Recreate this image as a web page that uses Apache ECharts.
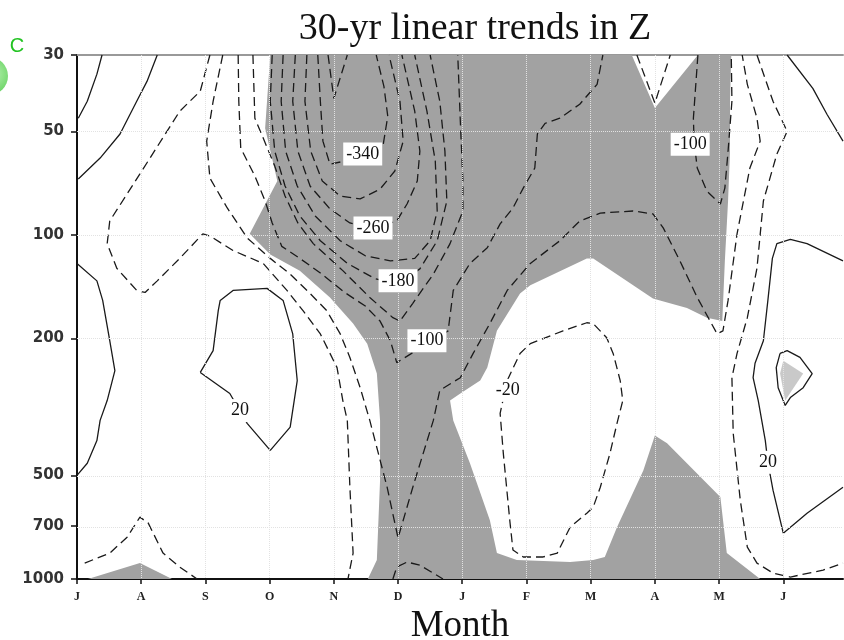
<!DOCTYPE html>
<html><head><meta charset="utf-8">
<script src="https://cdn.jsdelivr.net/npm/echarts@6/dist/echarts.min.js"></script>
<style>html,body{margin:0;padding:0;background:#fff}#c{width:844px;height:640px}</style>
</head><body><div id="c"></div>
<script>
// ---------- axis categories / ticks ----------
const months = ['J','A','S','O','N','D','J','F','M','A','M','J'];
const pressureTicks = [30,50,100,200,500,700,1000];
const gridPressures = [50,100,200,500,700];

// ---------- shaded regions: [month index, pressure hPa] ----------
const shadeMain = [[3.01,30],[8.64,30],[9.0,42.8],[9.67,30],[10.19,30],[10.17,40.9],[10.17,57.1],[10.14,79.7],[10.09,119],[10.05,178],[9.81,174],[9.50,163],[9.08,155],[8.97,153],[8.04,117],[7.94,117],[7.06,140],[6.90,148],[6.54,190],[6.39,243],[6.28,265],[5.97,289],[5.81,303],[5.86,346],[6.12,461],[6.43,675],[6.54,841],[6.85,881],[7.68,893],[8.04,881],[8.22,863],[8.41,707],[8.82,484],[9.0,383],[9.19,403],[10.02,578],[10.12,841],[10.64,1000],[4.53,1000],[4.67,881],[4.72,516],[4.72,346],[4.67,253],[4.52,207],[4.30,181],[3.94,152],[3.47,127],[3.01,114],[2.69,99.3],[3.12,69.7],[2.93,49.0]];
const shadeBottomLeft = [[0.17,1000],[0.98,899],[1.48,1000]];
const shadeLight = [[11.0,232],[11.31,253],[11.03,303],[10.95,253]];

// ---------- positive contours (solid) ----------
const pos20TopLeftA = [[0.39,30],[0.31,34.1],[0.16,40.9],[0.02,45.8]];
const pos20TopLeftB = [[1.25,30],[1.09,35.8],[0.93,40.9],[0.67,50.9],[0.36,59.8],[0.02,68.8]];
const pos20LeftEdge = [[0,121],[0.31,136],[0.40,155],[0.51,203],[0.59,248],[0.47,303],[0.36,346],[0.31,396],[0.16,461],[0,500]];
const pos20LoopSO = [[1.92,251],[2.12,217],[2.20,166],[2.23,155],[2.43,145],[2.96,143],[3.21,155],[3.36,194],[3.43,265],[3.32,362],[3.01,423],[2.65,353],[2.38,289],[1.92,251]];
const pos20TopRight = [[11.06,30],[11.46,37.5],[11.68,44.6],[11.93,53.4]];
const pos20RightJ = [[11.93,119],[11.37,106],[11.11,103],[10.90,106],[10.83,117],[10.76,155],[10.69,203],[10.56,236],[10.53,260],[10.61,303],[10.72,396],[10.76,458],[10.84,552],[11.0,736],[11.37,644],[11.93,541]];
const pos60LoopJ = [[10.95,221],[11.06,217],[11.26,227],[11.45,253],[11.31,278],[11.11,297],[11.03,313],[10.92,278],[10.89,243],[10.95,221]];

// ---------- negative contours (dashed) ----------
const neg20Main = [[2.07,30],[1.92,38.2],[1.60,43.7],[0.98,66.5],[0.51,91.1],[0.47,106],[0.62,125],[0.93,145],[1.06,147],[1.25,136],[1.60,117],[1.96,99.3],[2.07,100.7],[2.43,111],[2.90,121],[3.27,145],[3.52,166],[3.79,194],[4.05,243],[4.14,303],[4.21,346],[4.25,541],[4.30,841],[4.22,1000]];
const neg20LoopFM = [[6.70,265],[6.59,330],[6.64,432],[6.74,675],[6.79,824],[6.95,863],[7.26,863],[7.48,841],[7.68,707],[7.94,644],[8.04,618],[8.15,541],[8.30,432],[8.41,353],[8.50,303],[8.46,265],[8.35,221],[8.25,199],[8.04,181],[7.94,180],[7.57,190],[7.06,207],[6.90,221],[6.70,265]];
const neg20RightMJ = [[10.59,30],[10.84,40.9],[11.06,50.0],[10.90,58.2],[10.69,79.7],[10.59,125],[10.44,174],[10.28,221],[10.20,260],[10.22,377],[10.33,590],[10.44,808],[10.59,899],[10.84,961],[11.11,987],[11.62,942],[11.93,899]];
const neg20BottomJA = [[0.12,899],[0.51,841],[0.78,756],[0.98,661],[1.11,688],[1.34,841],[1.60,923],[1.87,1000]];
const neg60Main = [[2.27,30],[2.12,40.9],[2.02,53.4],[2.07,68.4],[2.34,83.5],[2.65,102],[3.01,117],[3.32,130],[3.63,148],[3.89,166],[4.10,194],[4.25,227],[4.41,278],[4.56,346],[4.83,541],[5.0,760],[5.23,541],[5.55,346],[5.65,283],[5.97,260],[6.17,221],[6.43,181],[6.70,145],[7.06,121],[7.52,104],[7.83,91.1],[8.15,86.4],[8.66,85.2],[8.97,86.9],[9.13,95.4],[9.39,119],[9.66,152],[9.97,194],[10.06,190],[10.14,155],[10.28,99.3],[10.48,63.9],[10.64,53.4],[10.59,45.8],[10.44,36.5],[10.36,30]];
const neg60Notch = [[8.72,30],[9.0,41.4],[9.24,30]];
const neg100Main = [[2.51,30],[2.52,40.9],[2.55,55.9],[2.77,67.4],[2.93,79.7],[3.04,92.3],[3.19,108],[3.47,117],[3.79,129],[4.17,147],[4.49,161],[4.72,178],[4.88,203],[4.98,235],[5.78,190],[5.86,145],[6.12,121],[6.39,109],[6.59,92.9],[6.79,83.5],[6.95,73.1],[7.13,63.9],[7.17,50.9],[7.29,47.4],[7.52,45.8],[7.83,41.7],[8.10,36.5],[8.19,30]];
const neg100RightA = [[9.67,30],[9.60,45.8],[9.61,53.4],[9.66,63.9],[9.81,74.6],[10.02,81.3],[10.09,73.1],[10.14,57.1],[10.20,40.9],[10.19,30]];
const neg100BottomD = [[4.92,1000],[4.98,923],[5.14,893],[5.34,911],[5.70,1000]];
const neg140 = [[2.74,30],[2.77,45.8],[2.90,52.3],[3.08,63.1],[3.24,77.1],[3.44,92.3],[3.68,106],[4.14,127],[4.56,152],[4.92,174],[5.03,178],[5.23,158],[5.55,130],[5.81,106],[6.01,85.2],[6.01,69.7],[5.97,46.7],[5.93,30]];
const neg180 = [[3.04,30],[3.01,40.9],[3.08,57.1],[3.24,72.1],[3.47,88.1],[3.79,104],[4.21,121],[4.64,134],[5.0,139],[5.34,125.5],[5.61,104],[5.76,79.7],[5.73,57.1],[5.65,40.9],[5.50,30]];
const neg220 = [[3.21,30],[3.18,40.9],[3.25,57.1],[3.43,72.1],[3.71,88.1],[4.10,104],[4.49,115],[4.88,119],[5.26,117],[5.50,104],[5.61,85.2],[5.58,61.0],[5.45,43.7],[5.26,30]];
const neg260 = [[3.40,30],[3.36,40.9],[3.44,57.1],[3.63,72.1],[3.94,84.0],[4.25,92.3],[4.61,96.0],[4.98,91.1],[5.14,81.3],[5.30,69.7],[5.34,57.1],[5.26,43.7],[5.06,30]];
const neg300 = [[3.58,30],[3.55,40.9],[3.64,57.1],[3.82,69.7],[4.10,77.1],[4.41,78.6],[4.72,73.6],[4.95,65.2],[5.08,53.4],[5.03,40.9],[4.86,30]];
const neg340 = [[3.75,30],[3.79,40.9],[3.83,53.4],[3.94,62.3],[4.17,61.0],[4.45,58.2],[4.77,54.5],[4.84,45.2],[4.78,37.0],[4.66,30]];
const neg380 = [[3.91,30],[4.0,40.1],[4.21,30]];

// ---------- contour labels: [month, hPa, text] ----------
const contourLabels = [[4.45,58.2,'-340'],[4.61,95.4,'-260'],[5.0,136,'-180'],[5.45,203,'-100'],[9.55,54.5,'-100'],[6.71,283,'-20'],[2.54,324,'20'],[10.76,458,'20']];

// ---------- build ----------
const L = Math.log10;
const toXY = pts => pts.map(([m,p]) => [m, L(p)]);
const solidLines = [pos20TopLeftA,pos20TopLeftB,pos20LeftEdge,pos20LoopSO,pos20TopRight,pos20RightJ,pos60LoopJ];
const dashedLines = [neg20Main,neg20LoopFM,neg20RightMJ,neg20BottomJA,neg60Main,neg60Notch,neg100Main,neg100RightA,neg100BottomD,neg140,neg180,neg220,neg260,neg300,neg340,neg380];
const logTicks = pressureTicks.map(L);
const monthIdx = months.map((_, i) => i);

function shadeSeries(polys, color) {
  return {
    type: 'custom', silent: true, z: 1, clip: true,
    data: polys.map(pl => [pl[0][0], L(pl[0][1])]),
    renderItem: (params, api) => ({
      type: 'polygon',
      shape: { points: polys[params.dataIndex].map(([m,p]) => api.coord([m, L(p)])) },
      style: { fill: color }
    })
  };
}
function lineSeries(pts, dashed) {
  return {
    type: 'line', data: toXY(pts), symbol: 'none', showSymbol: false, silent: true, z: 3,
    lineStyle: { color: '#1a1a1a', width: 1.3, type: dashed ? [9,5] : 'solid' }
  };
}

const series = [
  shadeSeries([shadeMain, shadeBottomLeft], '#a2a2a2'),
  shadeSeries([shadeLight], '#c9c9c9'),
  {
    type: 'line', data: [], silent: true, z: 0,
    markLine: {
      silent: true, symbol: ['none','none'], label: { show: false }, animation: false,
      lineStyle: { type: 'dotted', color: '#e2e2e2', width: 1 },
      data: gridPressures.map(p => ({ yAxis: L(p) })).concat(monthIdx.slice(1).map(i => ({ xAxis: i })))
    }
  },
  ...solidLines.map(p => lineSeries(p, false)),
  ...dashedLines.map(p => lineSeries(p, true)),
  {
    type: 'scatter', silent: true, z: 6, symbol: 'rect', symbolSize: 1,
    itemStyle: { color: 'rgba(0,0,0,0)', opacity: 1 },
    data: contourLabels.map(l => [l[0], L(l[1]), l[2]]),
    label: {
      show: true, position: 'inside', formatter: p => p.value[2],
      backgroundColor: '#ffffff', padding: [3,3,2,3], opacity: 1,
      fontFamily: 'Liberation Serif', fontSize: 18, color: '#111'
    }
  }
];

const chart = echarts.init(document.getElementById('c'), null, { renderer: 'canvas' });
chart.setOption({
  animation: false,
  backgroundColor: '#fff',
  title: {
    text: '30-yr linear trends in Z', left: 470, top: 5, textAlign: 'center',
    textStyle: { fontFamily: 'Liberation Serif', fontSize: 38, fontWeight: 'normal', color: '#111' }
  },
  grid: { left: 77, right: 1, top: 55, bottom: 61, outerBoundsMode: 'none', containLabel: false },
  xAxis: [{
    type: 'value', min: 0, max: 11.93, position: 'bottom',
    axisLine: { onZero: false, lineStyle: { color: '#111', width: 2 } },
    axisTick: { show: true, customValues: monthIdx, length: 5, lineStyle: { color: '#111', width: 1.5 } },
    axisLabel: { customValues: monthIdx, formatter: v => months[Math.round(v)], fontFamily: 'Liberation Serif', fontWeight: 'bold', fontSize: 12, color: '#222', margin: 12 },
    splitLine: { show: false },
    name: 'Month', nameLocation: 'middle', nameGap: 25,
    nameTextStyle: { fontFamily: 'Liberation Serif', fontSize: 37, color: '#111' }
  }, {
    type: 'value', min: 0, max: 11.93, position: 'top',
    axisLine: { onZero: false, lineStyle: { color: '#999', width: 2 } },
    axisTick: { show: false }, axisLabel: { show: false }, splitLine: { show: false }
  }],
  yAxis: {
    type: 'value', inverse: true, min: L(30), max: 3,
    axisLine: { show: true, onZero: false, lineStyle: { color: '#111', width: 2 } },
    axisTick: { show: true, customValues: logTicks, length: 6, lineStyle: { color: '#111', width: 1.5 } },
    axisLabel: { customValues: logTicks, formatter: v => String(Math.round(Math.pow(10, v))), fontFamily: 'DejaVu Sans', fontWeight: 'bold', fontSize: 15, color: '#333', margin: 13 },
    splitLine: { show: false }
  },
  graphic: [
    { type: 'circle', shape: { cx: -11, cy: 76, r: 19 },
      style: { fill: new echarts.graphic.RadialGradient(0.6, 0.45, 0.7, [{ offset: 0, color: '#b6f2b0' }, { offset: 1, color: '#52c94c' }]) } },
    { type: 'text', x: 17, y: 46, style: { text: 'C', fill: '#22c322', font: '20px "Liberation Sans"', align: 'center', verticalAlign: 'middle' } }
  ],
  series
});
</script>
</body></html>
